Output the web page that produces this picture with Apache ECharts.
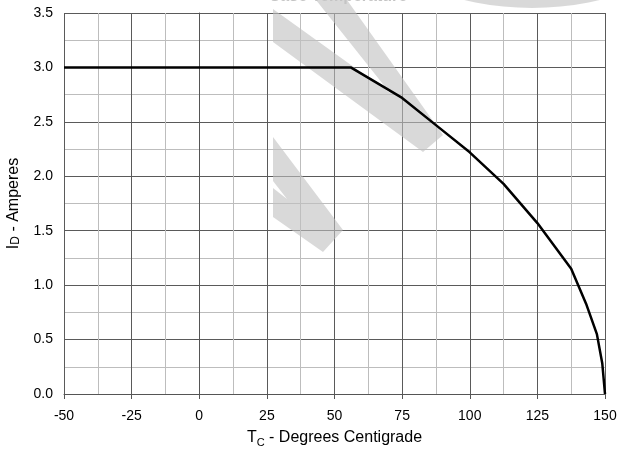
<!DOCTYPE html>
<html>
<head>
<meta charset="utf-8">
<script src="https://cdn.jsdelivr.net/npm/echarts@6/dist/echarts.min.js"></script>
<style>html,body{margin:0;padding:0;background:#fff}#c{width:619px;height:450px}</style>
</head>
<body>
<div id="c"></div>
<script>
const chartTitle = 'Case Temperature';
const xTicks = [-50, -25, 0, 25, 50, 75, 100, 125, 150];
const yTicks = [0, 0.5, 1.0, 1.5, 2.0, 2.5, 3.0, 3.5];
const temps = [-50, 56, 75, 87.5, 100, 112.5, 125, 137.5, 143, 147, 149, 150];
const currents = [3.0, 3.0, 2.72, 2.47, 2.22, 1.93, 1.57, 1.15, 0.83, 0.55, 0.28, 0];

const chart = echarts.init(document.getElementById('c'), null, {renderer: 'canvas'});
const wm = 'rgba(192,192,192,0.6)';
const FF = 'Liberation Sans, Arial, sans-serif';
const option = {
  animation: false,
  title: {
    text: chartTitle, left: 338, top: -11, textAlign: 'center', padding: 0,
    textStyle: {fontFamily: FF, fontSize: 16, fontWeight: 'bold', color: '#c4c4c4'}
  },
  grid: {left: 64, right: 14, top: 13, bottom: 56, containLabel: false, outerBoundsMode: 'none'},
  xAxis: {
    type: 'value', min: xTicks[0], max: xTicks[xTicks.length - 1], interval: 25,
    axisLine: {show: true, lineStyle: {color: '#555', width: 1}},
    axisTick: {show: true, length: 5, lineStyle: {color: '#555'}},
    axisLabel: {color: '#000', fontFamily: FF, fontSize: 14, margin: 15},
    splitLine: {show: true, lineStyle: {color: '#5a5a5a', width: 1}},
    minorTick: {show: false, splitNumber: 2},
    minorSplitLine: {show: true, lineStyle: {color: '#bdbdbd', width: 1}},
    name: '{m|T}{s|C}{m| - Degrees Centigrade}', nameLocation: 'middle', nameGap: 34,
    nameTextStyle: {rich: {
      m: {fontFamily: FF, fontSize: 16, color: '#000'},
      s: {fontFamily: FF, fontSize: 11, color: '#000', padding: [9, 0, 0, 0]}
    }}
  },
  yAxis: {
    type: 'value', min: yTicks[0], max: yTicks[yTicks.length - 1], interval: 0.5,
    axisLine: {show: true, lineStyle: {color: '#555', width: 1}},
    axisTick: {show: true, length: 5, lineStyle: {color: '#555'}},
    axisLabel: {color: '#000', fontFamily: FF, fontSize: 14, margin: 11,
      formatter: v => v.toFixed(1)},
    splitLine: {show: true, lineStyle: {color: '#5a5a5a', width: 1}},
    minorTick: {show: false, splitNumber: 2},
    minorSplitLine: {show: true, lineStyle: {color: '#bdbdbd', width: 1}},
    name: '{m|I}{s|D}{m| - Amperes}', nameLocation: 'middle', nameGap: 42,
    nameTextStyle: {rich: {
      m: {fontFamily: FF, fontSize: 16, color: '#000'},
      s: {fontFamily: FF, fontSize: 12, color: '#000', padding: [3, 0, 0, 0]}
    }}
  },
  graphic: [
    {type: 'polygon', z: 1, silent: true, shape: {points: [[273,9],[390,93],[316,0],[347,0],[443,135],[423,152],[273,42]]}, style: {fill: wm}},
    {type: 'polygon', z: 1, silent: true, shape: {points: [[273,137],[343,230],[323,252],[273,217],[273,188],[287,199],[273,181]]}, style: {fill: wm}},
    {type: 'circle', z: 1, silent: true, shape: {cx: 532, cy: -282, r: 290}, style: {fill: wm}}
  ],
  series: [{
    type: 'line', z: 5, data: temps.map((t, i) => [t, currents[i]]),
    showSymbol: false, symbol: 'none',
    lineStyle: {color: '#000', width: 2.5}
  }]
};
chart.setOption(option);
</script>
</body>
</html>
